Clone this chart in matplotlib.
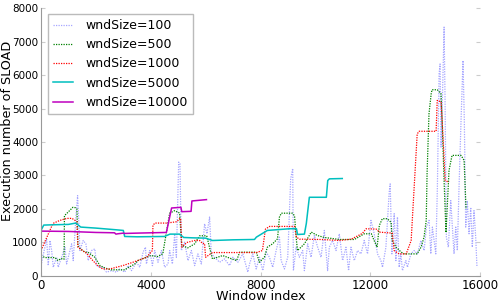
import matplotlib
matplotlib.use("Agg")
import matplotlib.pyplot as plt

# wndSize=100 (very noisy)
win_100 = [0, 145, 207, 265, 327, 389, 447, 571, 629, 753, 873, 934, 1054, 1116, 1174,
           1236, 1273, 1334, 1371, 1418, 1538, 1636, 1720, 1843, 1963, 2025, 2145, 2265,
           2389, 2571, 2752, 2872, 3054, 3174, 3298, 3480, 3600, 3720, 3807, 3843, 3963,
           4061, 4145, 4265, 4389, 4509, 4629, 4690, 4789, 4872, 4934, 5018, 5065, 5116,
           5236, 5356, 5480, 5600, 5719, 5843, 5963, 6047, 6145, 6207, 6327, 6508, 6690,
           6872, 6992, 7174, 7356, 7537, 7600, 7719, 7843, 7963, 8083, 8207, 8326, 8446,
           8570, 8690, 8752, 8872, 8992, 9100, 9174, 9199, 9297, 9417, 9537, 9599, 9719,
           9843, 9963, 10083, 10206, 10326, 10446, 10508, 10628, 10752, 10872, 10992,
           11115, 11210, 11297, 11417, 11537, 11661, 11780, 11901, 12025, 12144, 12264,
           12388, 12446, 12570, 12690, 12726, 12788, 12872, 12934, 12991, 13053, 13115,
           13173, 13297, 13355, 13479, 13599, 13719, 13843, 13962, 14046, 14144, 14206,
           14264, 14388, 14446, 14508, 14544, 14580, 14628, 14690, 14726, 14773, 14846,
           14933, 14992, 15053, 15115, 15173, 15235, 15308, 15380, 15428, 15479, 15537,
           15599, 15661, 15719, 15780, 15842, 15889]
sload_100 = [310, 860, 1110, 310, 1060, 760, 260, 560, 260, 560, 860, 360, 760, 960, 460,
             1260, 1760, 2400, 1760, 760, 1060, 960, 460, 760, 810, 310, 260, 260,
             115, 160, 115, 210, 115, 310, 160, 410, 260, 710, 860, 360, 760,
             310, 760, 410, 760, 260, 360, 760, 360, 1260, 560, 3400, 3350, 760,
             1010, 460, 760, 310, 660, 360, 1560, 1260, 1760, 660, 560, 410, 510,
             310, 560, 410, 660, 115, 360, 660, 210, 560, 160, 710, 560, 260,
             760, 1160, 460, 210, 560, 2900, 3210, 160, 860, 560, 760, 160, 960,
             560, 1210, 860, 560, 1360, 160, 860, 1060, 760, 1260, 460,
             860, 160, 860, 460, 760, 660, 1060, 660, 1660, 1260, 660,
             460, 260, 860, 2500, 2750, 660, 1860, 460, 1760, 260, 660,
             160, 460, 260, 660, 760, 660, 1060, 760, 1460, 1660, 660,
             1460, 660, 2650, 6030, 6330, 3850, 5240, 7430, 5240, 1160, 860,
             2250, 1460, 660, 1460, 760, 2650, 4640, 6430, 4640, 1460, 2250,
             1260, 2050, 860, 1950, 1160, 260]

# wndSize=500
win_500 = [0, 145, 510, 620, 730, 840, 855, 980, 1160, 1250, 1310, 1345, 1420, 1600,
           1710, 1960, 2150, 2330, 2550, 3050, 3160, 3420, 3530, 3780, 4000, 4250, 4440,
           4510, 4690, 4870, 5050, 5130, 5350, 5600, 5780, 6040, 6140, 6250, 6620, 7130,
           7240, 7850, 7960, 8140, 8250, 8440, 8620, 8690, 8760, 9160, 9240, 9310, 9350,
           9600, 9850, 10070, 10330, 10870, 11420, 11780, 12040, 12140, 12250, 12330,
           12440, 12620, 12760, 12800, 12940, 13130, 13240, 13710, 13850, 13960, 14040,
           14070, 14140, 14220, 14250, 14440, 14580, 14620, 14690, 14760, 14870, 14980,
           15310, 15420, 15490]
sload_500 = [610, 550, 550, 460, 520, 500, 1800, 1900, 2050, 2040, 2000, 900, 820, 710,
             710, 560, 310, 240, 185, 185, 240, 360, 460, 540, 610, 580, 660,
             1010, 1875, 1950, 1880, 910, 840, 960, 1200, 1200, 860, 510, 610, 460,
             710, 710, 410, 560, 860, 960, 1110, 1760, 1875, 1875, 1800, 1060, 760,
             960, 1310, 1210, 1150, 1090, 1090, 1260, 1260, 1060, 860, 1510,
             1710, 1710, 1600, 1060, 860, 710, 660, 660, 860, 1160, 1660,
             3050, 4840, 5440, 5560, 5560, 5440, 4600, 2850, 1300, 3150, 3600,
             3600, 3450, 2000]

# wndSize=1000
win_1000 = [0, 436, 690, 945, 1130, 1240, 1310, 1345, 1670, 1890, 2070, 2250, 2510, 2980,
            3350, 3850, 4060, 4080, 4150, 4580, 4950, 5050, 5090, 5130, 5310, 5600, 5780,
            5890, 5960, 6000, 6250, 7850, 8070, 8180, 8330, 9240, 9310, 9420, 10220,
            10870, 11310, 11710, 11850, 12220, 12330, 12800, 12870, 13050, 13310, 13490,
            13710, 13780, 14400, 14440, 14580, 14620, 14730, 14870]
sload_1000 = [760, 1570, 1660, 1720, 1720, 1660, 1610, 860, 670, 460, 310, 210, 210, 310,
              410, 560, 760, 1510, 1580, 1580, 1620, 1710, 1720, 860, 1000, 1060, 1060,
              970, 970, 560, 700, 700, 760, 1400, 1480, 1480, 1160, 1100, 1090,
              1060, 1100, 1270, 1410, 1400, 1310, 1280, 760, 660, 660, 1060,
              4240, 4320, 4320, 5240, 5200, 4640, 2850, 2800]

# wndSize=5000
win_5000 = [0, 100, 500, 1000, 1270, 1450, 2000, 2730, 3000, 3050, 3500, 4500, 4700, 5050,
            5200, 5500, 6000, 6250, 7000, 7780, 7850, 8250, 9050, 9310, 9350, 9600, 9670,
            9780, 10400, 10450, 10510, 10980]
sload_5000 = [1360, 1520, 1530, 1540, 1580, 1460, 1430, 1380, 1360, 1180, 1170, 1180, 1250,
              1250, 1150, 1140, 1130, 1060, 1080, 1090, 1160, 1360, 1410, 1410, 1240, 1250,
              1570, 2350, 2350, 2850, 2900, 2910]

# wndSize=10000
win_10000 = [0, 1000, 2000, 2680, 2730, 2800, 3000, 3050, 3500, 4570, 4760, 5100, 5130,
             5470, 5500, 6030]
sload_10000 = [1340, 1330, 1300, 1290, 1250, 1260, 1280, 1270, 1280, 1300, 2030, 2050, 1920,
               1930, 2240, 2280]

fig = plt.figure(figsize=(4.98, 3.02), dpi=100)
ax = fig.add_axes([0.0823, 0.0861, 0.8816, 0.8874])

dots = (0, (1, 1))
ax.plot(win_100, sload_100, linestyle=dots, color='blue', alpha=0.35, lw=0.9, label='wndSize=100')
ax.plot(win_500, sload_500, linestyle=dots, color='green', lw=0.9, label='wndSize=500')
ax.plot(win_1000, sload_1000, linestyle=dots, color='red', lw=0.9, label='wndSize=1000')
ax.plot(win_5000, sload_5000, '-', color='c', lw=1.1, label='wndSize=5000')
ax.plot(win_10000, sload_10000, '-', color='m', lw=1.1, label='wndSize=10000')

ax.set_xlim(0, 16000)
ax.set_ylim(0, 8000)
ax.set_xticks([0, 4000, 8000, 12000, 16000])
ax.set_yticks(range(0, 8001, 1000))
ax.tick_params(axis='x', labelsize=8.5)
ax.tick_params(axis='y', labelsize=7.5)
ax.tick_params(direction='in', color='#cccccc', right=True, length=3, pad=2)
for s in ['top', 'right']:
    ax.spines[s].set_visible(False)
for s in ['left', 'bottom']:
    ax.spines[s].set_color('#999999')

ax.set_xlabel('Window index', fontsize=9.2, labelpad=-1)
ax.set_ylabel('Execution number of SLOAD', fontsize=9.2)
ax.yaxis.set_label_coords(-0.062, 0.54)

leg = ax.legend(loc='upper left', bbox_to_anchor=(0.016, 0.978), borderaxespad=0,
                fontsize=9, fancybox=False, handlelength=1.6, handletextpad=1.0,
                labelspacing=0.5)
leg.get_frame().set_edgecolor('#aaaaaa')

fig.savefig('out.png', dpi=100)
